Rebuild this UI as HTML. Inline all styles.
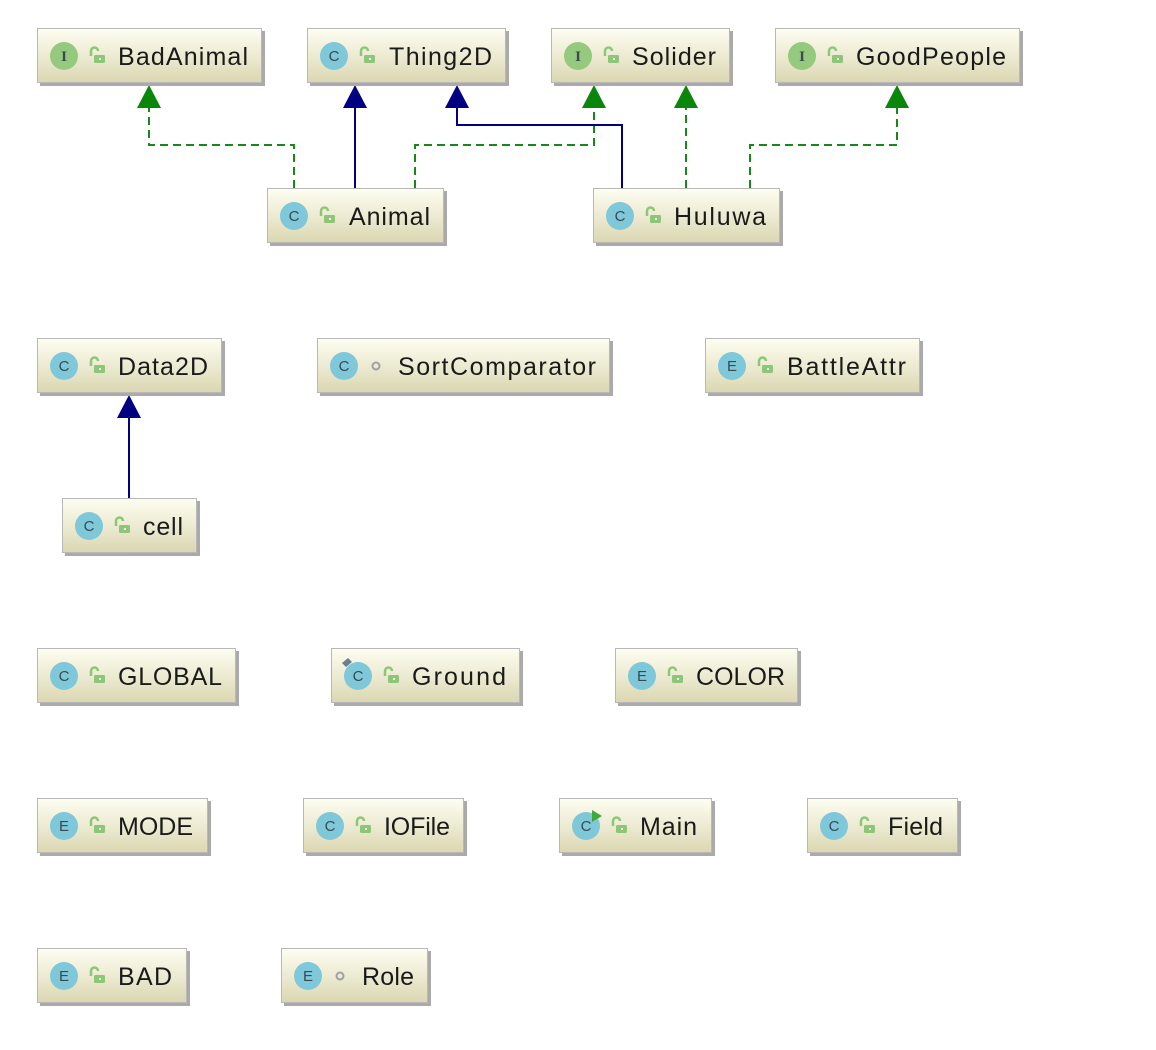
<!DOCTYPE html>
<html><head><meta charset="utf-8"><style>
html,body{margin:0;padding:0;background:#fff;}
svg{display:block}
text{font-family:"Liberation Sans",sans-serif;}
.t{font-size:25px;fill:#1a1a1a}
.l{font-size:15px;fill:#3a4a50;text-anchor:middle}
</style></head><body>
<svg width="1156" height="1050" viewBox="0 0 1156 1050" xmlns="http://www.w3.org/2000/svg">
<defs>
<linearGradient id="g" x1="0" y1="0" x2="0" y2="1">
<stop offset="0" stop-color="#fefef2"/><stop offset="1" stop-color="#dbd7b2"/>
</linearGradient>
<g id="lock"><path d="M-5 1 V-4 a3.5 3.5 0 0 1 7 0" fill="none" stroke="#8cc777" stroke-width="2.5"/><rect x="-2" y="0" width="11" height="8" rx="1.5" fill="#8cc777"/><rect x="3" y="3" width="2" height="2" fill="#fff"/></g>
</defs>
<g fill="none" stroke-width="2">
<path d="M294 188 V145 H149 V108" stroke="#16891a" stroke-dasharray="8,5"/>
<path d="M415 188 V145 H594 V108" stroke="#16891a" stroke-dasharray="8,5"/>
<path d="M686 188 V108" stroke="#16891a" stroke-dasharray="8,5"/>
<path d="M750 188 V145 H897 V108" stroke="#16891a" stroke-dasharray="8,5"/>
<path d="M355 188 V108" stroke="#000080"/>
<path d="M622 188 V125 H457 V108" stroke="#000080"/>
<path d="M129 498 V418" stroke="#000080"/>
</g>
<g fill="#0a860a">
<path d="M149 85 L137 108 L161 108Z"/><path d="M594 85 L582 108 L606 108Z"/><path d="M686 85 L674 108 L698 108Z"/><path d="M897 85 L885 108 L909 108Z"/>
</g>
<g fill="#000080">
<path d="M355 85 L343 108 L367 108Z"/><path d="M457 85 L445 108 L469 108Z"/><path d="M129 395 L117 418 L141 418Z"/>
</g>
<g>
<g transform="translate(37,28)"><rect x="3" y="3" width="225" height="55" fill="#aaa"/><rect x="0.5" y="0.5" width="224" height="54" fill="url(#g)" stroke="#b8b8b8"/><circle cx="27" cy="28" r="14" fill="#94c97e"/><text x="27" y="33" class="l" style="font-family:'Liberation Serif',serif;font-weight:bold">I</text><use href="#lock" x="59" y="27"/><text x="81" y="37" class="t" textLength="130" lengthAdjust="spacing">BadAnimal</text></g>
<g transform="translate(307,28)"><rect x="3" y="3" width="199" height="55" fill="#aaa"/><rect x="0.5" y="0.5" width="198" height="54" fill="url(#g)" stroke="#b8b8b8"/><circle cx="27" cy="28" r="14" fill="#7ec8d9"/><text x="27" y="33" class="l">C</text><use href="#lock" x="59" y="27"/><text x="82" y="37" class="t" textLength="103" lengthAdjust="spacing">Thing2D</text></g>
<g transform="translate(551,28)"><rect x="3" y="3" width="179" height="55" fill="#aaa"/><rect x="0.5" y="0.5" width="178" height="54" fill="url(#g)" stroke="#b8b8b8"/><circle cx="27" cy="28" r="14" fill="#94c97e"/><text x="27" y="33" class="l" style="font-family:'Liberation Serif',serif;font-weight:bold">I</text><use href="#lock" x="59" y="27"/><text x="81" y="37" class="t" textLength="84" lengthAdjust="spacing">Solider</text></g>
<g transform="translate(775,28)"><rect x="3" y="3" width="245" height="55" fill="#aaa"/><rect x="0.5" y="0.5" width="244" height="54" fill="url(#g)" stroke="#b8b8b8"/><circle cx="27" cy="28" r="14" fill="#94c97e"/><text x="27" y="33" class="l" style="font-family:'Liberation Serif',serif;font-weight:bold">I</text><use href="#lock" x="59" y="27"/><text x="81" y="37" class="t" textLength="150" lengthAdjust="spacing">GoodPeople</text></g>
<g transform="translate(267,188)"><rect x="3" y="3" width="177" height="55" fill="#aaa"/><rect x="0.5" y="0.5" width="176" height="54" fill="url(#g)" stroke="#b8b8b8"/><circle cx="27" cy="28" r="14" fill="#7ec8d9"/><text x="27" y="33" class="l">C</text><use href="#lock" x="59" y="27"/><text x="82" y="37" class="t" textLength="81" lengthAdjust="spacing">Animal</text></g>
<g transform="translate(593,188)"><rect x="3" y="3" width="187" height="55" fill="#aaa"/><rect x="0.5" y="0.5" width="186" height="54" fill="url(#g)" stroke="#b8b8b8"/><circle cx="27" cy="28" r="14" fill="#7ec8d9"/><text x="27" y="33" class="l">C</text><use href="#lock" x="59" y="27"/><text x="81" y="37" class="t" textLength="92" lengthAdjust="spacing">Huluwa</text></g>
<g transform="translate(37,338)"><rect x="3" y="3" width="185" height="55" fill="#aaa"/><rect x="0.5" y="0.5" width="184" height="54" fill="url(#g)" stroke="#b8b8b8"/><circle cx="27" cy="28" r="14" fill="#7ec8d9"/><text x="27" y="33" class="l">C</text><use href="#lock" x="59" y="27"/><text x="81" y="37" class="t" textLength="90" lengthAdjust="spacing">Data2D</text></g>
<g transform="translate(317,338)"><rect x="3" y="3" width="293" height="55" fill="#aaa"/><rect x="0.5" y="0.5" width="292" height="54" fill="url(#g)" stroke="#b8b8b8"/><circle cx="27" cy="28" r="14" fill="#7ec8d9"/><text x="27" y="33" class="l">C</text><circle cx="59" cy="28" r="3.5" fill="none" stroke="#a0a0a0" stroke-width="2"/><text x="81" y="37" class="t" textLength="198" lengthAdjust="spacing">SortComparator</text></g>
<g transform="translate(705,338)"><rect x="3" y="3" width="215" height="55" fill="#aaa"/><rect x="0.5" y="0.5" width="214" height="54" fill="url(#g)" stroke="#b8b8b8"/><circle cx="27" cy="28" r="14" fill="#7ec8d9"/><text x="27" y="33" class="l">E</text><use href="#lock" x="59" y="27"/><text x="82" y="37" class="t" textLength="119" lengthAdjust="spacing">BattleAttr</text></g>
<g transform="translate(62,498)"><rect x="3" y="3" width="135" height="55" fill="#aaa"/><rect x="0.5" y="0.5" width="134" height="54" fill="url(#g)" stroke="#b8b8b8"/><circle cx="27" cy="28" r="14" fill="#7ec8d9"/><text x="27" y="33" class="l">C</text><use href="#lock" x="59" y="27"/><text x="81" y="37" class="t" textLength="40" lengthAdjust="spacing">cell</text></g>
<g transform="translate(37,648)"><rect x="3" y="3" width="199" height="55" fill="#aaa"/><rect x="0.5" y="0.5" width="198" height="54" fill="url(#g)" stroke="#b8b8b8"/><circle cx="27" cy="28" r="14" fill="#7ec8d9"/><text x="27" y="33" class="l">C</text><use href="#lock" x="59" y="27"/><text x="81" y="37" class="t" textLength="104" lengthAdjust="spacing">GLOBAL</text></g>
<g transform="translate(331,648)"><rect x="3" y="3" width="189" height="55" fill="#aaa"/><rect x="0.5" y="0.5" width="188" height="54" fill="url(#g)" stroke="#b8b8b8"/><circle cx="27" cy="28" r="14" fill="#7ec8d9"/><text x="27" y="33" class="l">C</text><path d="M11 15 l6 -5 l4 4 l-6 5 z" fill="#6d7f8a"/><use href="#lock" x="59" y="27"/><text x="81" y="37" class="t" textLength="94" lengthAdjust="spacing">Ground</text></g>
<g transform="translate(615,648)"><rect x="3" y="3" width="183" height="55" fill="#aaa"/><rect x="0.5" y="0.5" width="182" height="54" fill="url(#g)" stroke="#b8b8b8"/><circle cx="27" cy="28" r="14" fill="#7ec8d9"/><text x="27" y="33" class="l">E</text><use href="#lock" x="59" y="27"/><text x="81" y="37" class="t" textLength="89" lengthAdjust="spacing">COLOR</text></g>
<g transform="translate(37,798)"><rect x="3" y="3" width="171" height="55" fill="#aaa"/><rect x="0.5" y="0.5" width="170" height="54" fill="url(#g)" stroke="#b8b8b8"/><circle cx="27" cy="28" r="14" fill="#7ec8d9"/><text x="27" y="33" class="l">E</text><use href="#lock" x="59" y="27"/><text x="81" y="37" class="t" textLength="75" lengthAdjust="spacing">MODE</text></g>
<g transform="translate(303,798)"><rect x="3" y="3" width="161" height="55" fill="#aaa"/><rect x="0.5" y="0.5" width="160" height="54" fill="url(#g)" stroke="#b8b8b8"/><circle cx="27" cy="28" r="14" fill="#7ec8d9"/><text x="27" y="33" class="l">C</text><use href="#lock" x="59" y="27"/><text x="81" y="37" class="t" textLength="66" lengthAdjust="spacing">IOFile</text></g>
<g transform="translate(559,798)"><rect x="3" y="3" width="153" height="55" fill="#aaa"/><rect x="0.5" y="0.5" width="152" height="54" fill="url(#g)" stroke="#b8b8b8"/><circle cx="27" cy="28" r="14" fill="#7ec8d9"/><text x="27" y="33" class="l">C</text><path d="M33 12 L43 18 L33 24 Z" fill="#3fa83f"/><use href="#lock" x="59" y="27"/><text x="81" y="37" class="t" textLength="57" lengthAdjust="spacing">Main</text></g>
<g transform="translate(807,798)"><rect x="3" y="3" width="151" height="55" fill="#aaa"/><rect x="0.5" y="0.5" width="150" height="54" fill="url(#g)" stroke="#b8b8b8"/><circle cx="27" cy="28" r="14" fill="#7ec8d9"/><text x="27" y="33" class="l">C</text><use href="#lock" x="59" y="27"/><text x="81" y="37" class="t" textLength="55" lengthAdjust="spacing">Field</text></g>
<g transform="translate(37,948)"><rect x="3" y="3" width="150" height="55" fill="#aaa"/><rect x="0.5" y="0.5" width="149" height="54" fill="url(#g)" stroke="#b8b8b8"/><circle cx="27" cy="28" r="14" fill="#7ec8d9"/><text x="27" y="33" class="l">E</text><use href="#lock" x="59" y="27"/><text x="81" y="37" class="t" textLength="54" lengthAdjust="spacing">BAD</text></g>
<g transform="translate(281,948)"><rect x="3" y="3" width="147" height="55" fill="#aaa"/><rect x="0.5" y="0.5" width="146" height="54" fill="url(#g)" stroke="#b8b8b8"/><circle cx="27" cy="28" r="14" fill="#7ec8d9"/><text x="27" y="33" class="l">E</text><circle cx="59" cy="28" r="3.5" fill="none" stroke="#a0a0a0" stroke-width="2"/><text x="81" y="37" class="t" textLength="52" lengthAdjust="spacing">Role</text></g>
</g>
</svg>
</body></html>
